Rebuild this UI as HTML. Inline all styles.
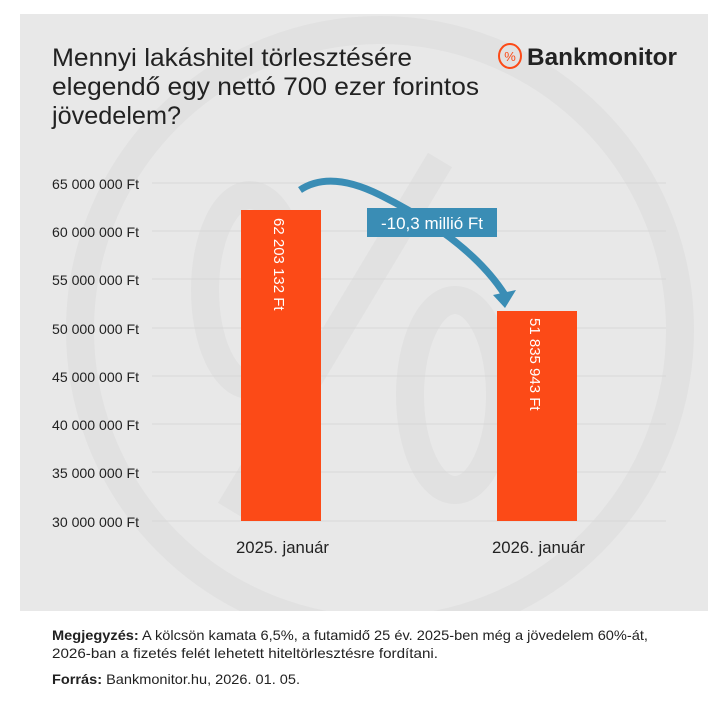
<!DOCTYPE html>
<html><head><meta charset="utf-8"><style>
body{margin:0;width:722px;height:703px;background:#fff;font-family:"Liberation Sans",sans-serif;position:relative;overflow:hidden}
</style></head><body>
<svg width="722" height="703" style="position:absolute;left:0;top:0" font-family="Liberation Sans, sans-serif">
<defs><clipPath id="c"><rect x="20" y="14" width="688" height="597"/></clipPath></defs>
<rect x="20" y="14" width="688" height="597" fill="#e8e8e8"/>
<g fill="none" stroke="#e1e1e1" stroke-width="28" clip-path="url(#c)">
<circle cx="380" cy="330" r="300"/>
<ellipse cx="250" cy="290" rx="45" ry="95"/>
<ellipse cx="455" cy="395" rx="45" ry="95"/>
<line x1="230" y1="510" x2="440" y2="160"/>
</g>
<g stroke="#d8d8d8" stroke-width="1">
<line x1="152" y1="183" x2="666" y2="183"/><line x1="152" y1="231" x2="666" y2="231"/>
<line x1="152" y1="279" x2="666" y2="279"/><line x1="152" y1="328" x2="666" y2="328"/>
<line x1="152" y1="376" x2="666" y2="376"/><line x1="152" y1="424" x2="666" y2="424"/>
<line x1="152" y1="472" x2="666" y2="472"/><line x1="152" y1="521" x2="666" y2="521"/>
</g>
<g font-size="14" fill="#222">
<text x="52" y="189" textLength="87" lengthAdjust="spacingAndGlyphs">65 000 000 Ft</text>
<text x="52" y="237" textLength="87" lengthAdjust="spacingAndGlyphs">60 000 000 Ft</text>
<text x="52" y="285" textLength="87" lengthAdjust="spacingAndGlyphs">55 000 000 Ft</text>
<text x="52" y="334" textLength="87" lengthAdjust="spacingAndGlyphs">50 000 000 Ft</text>
<text x="52" y="382" textLength="87" lengthAdjust="spacingAndGlyphs">45 000 000 Ft</text>
<text x="52" y="430" textLength="87" lengthAdjust="spacingAndGlyphs">40 000 000 Ft</text>
<text x="52" y="478" textLength="87" lengthAdjust="spacingAndGlyphs">35 000 000 Ft</text>
<text x="52" y="527" textLength="87" lengthAdjust="spacingAndGlyphs">30 000 000 Ft</text>
</g>
<rect x="241" y="210" width="80" height="311" fill="#fc4a17"/>
<rect x="497" y="311" width="80" height="210" fill="#fc4a17"/>
<text transform="translate(274,218) rotate(90)" font-size="15" fill="#fff">62 203 132 Ft</text>
<text transform="translate(530,318) rotate(90)" font-size="15" fill="#fff">51 835 943 Ft</text>
<g font-size="17" fill="#222">
<text x="236" y="553" textLength="93" lengthAdjust="spacingAndGlyphs">2025. január</text>
<text x="492" y="553" textLength="93" lengthAdjust="spacingAndGlyphs">2026. január</text>
</g>
<path d="M300 190 Q330 170 380 195 Q470 240 505 295" fill="none" stroke="#3a8db5" stroke-width="7"/>
<polygon points="493,295 516,290 505,308" fill="#3a8db5"/>
<rect x="367" y="208" width="130" height="29" fill="#3a8db5"/>
<text x="432" y="229" font-size="17" fill="#fff" text-anchor="middle">-10,3 millió Ft</text>
<g font-size="25" fill="#222">
<text x="52" y="66" textLength="360" lengthAdjust="spacingAndGlyphs">Mennyi lakáshitel törlesztésére</text>
<text x="52" y="95" textLength="427" lengthAdjust="spacingAndGlyphs">elegendő egy nettó 700 ezer forintos</text>
<text x="52" y="124" textLength="129" lengthAdjust="spacingAndGlyphs">jövedelem?</text>
</g>
<ellipse cx="510" cy="56" rx="11" ry="12" fill="none" stroke="#fc4a17" stroke-width="2"/>
<text x="510" y="61" font-size="13" fill="#fc4a17" text-anchor="middle">%</text>
<text x="527" y="65" font-size="24" font-weight="bold" fill="#222" textLength="150" lengthAdjust="spacingAndGlyphs">Bankmonitor</text>
<g font-size="14" fill="#222">
<text x="52" y="640" textLength="596" lengthAdjust="spacingAndGlyphs"><tspan font-weight="bold">Megjegyzés:</tspan> A kölcsön kamata 6,5%, a futamidő 25 év. 2025-ben még a jövedelem 60%-át,</text>
<text x="52" y="658" textLength="386" lengthAdjust="spacingAndGlyphs">2026-ban a fizetés felét lehetett hiteltörlesztésre fordítani.</text>
<text x="52" y="684" textLength="248" lengthAdjust="spacingAndGlyphs"><tspan font-weight="bold">Forrás:</tspan> Bankmonitor.hu, 2026. 01. 05.</text>
</g>
</svg>
</body></html>
